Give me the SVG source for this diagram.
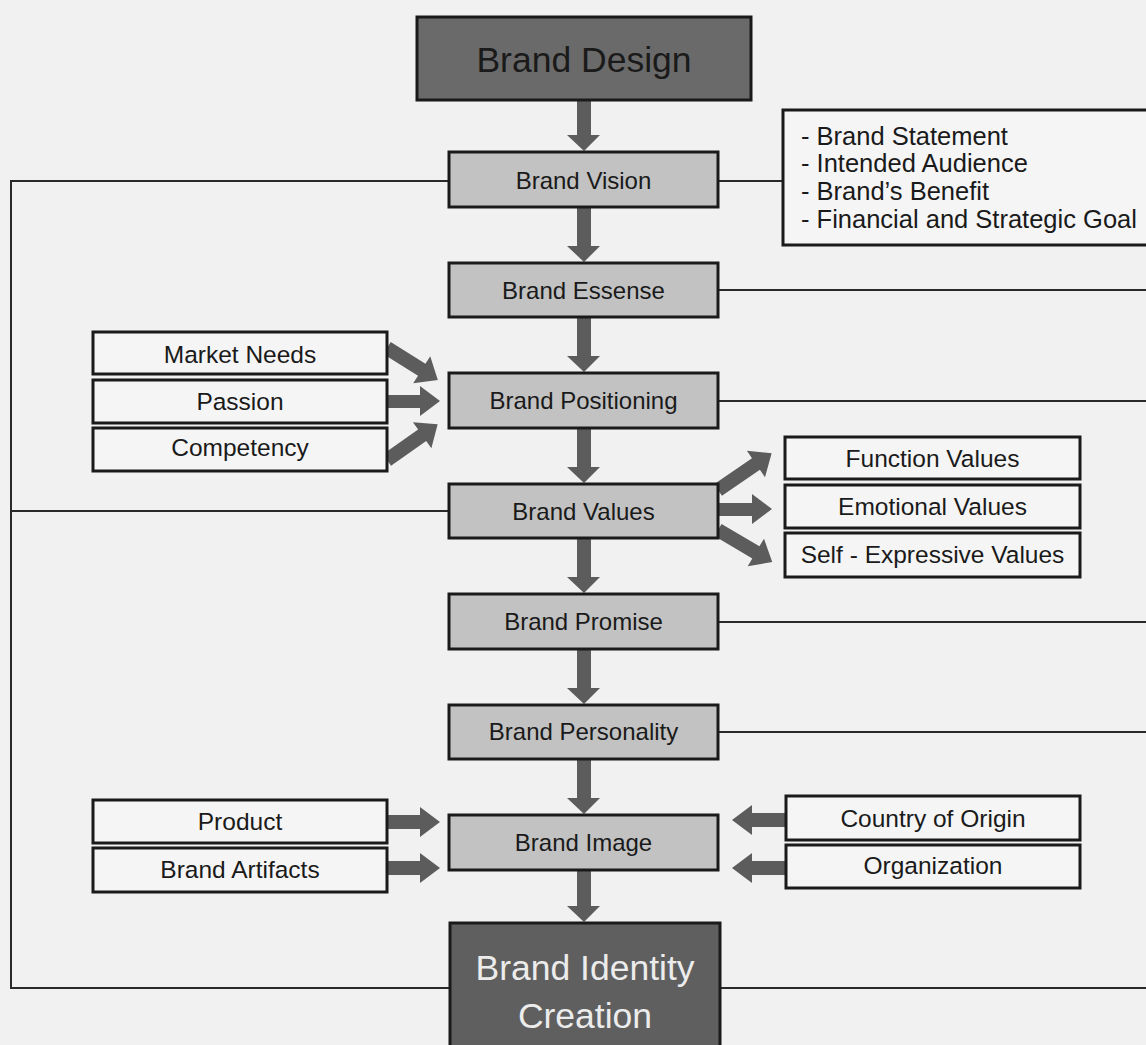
<svg xmlns="http://www.w3.org/2000/svg" width="1146" height="1045" viewBox="0 0 1146 1045">
<style>
text{font-family:"Liberation Sans",Arial,sans-serif;text-anchor:middle;fill:#1a1a1a}
.main{fill:#c2c2c2;stroke:#1a1a1a;stroke-width:3}
.dark{fill:#6a6a6a;stroke:#1a1a1a;stroke-width:3}
.side{fill:#f5f5f5;stroke:#1a1a1a;stroke-width:3}
.t{font-size:24px}
.s{font-size:24.5px}
.big{font-size:35.5px}
.info{font-size:25.5px;text-anchor:start}
.ln{stroke:#2a2a2a;stroke-width:2;fill:none}
.ar{fill:#5c5c5c}
</style>
<rect x="0" y="0" width="1146" height="1045" fill="#f1f1f1"/>

<g id="connectors">
  <polyline class="ln" points="449,181 11,181 11,988 450,988"/>
  <line class="ln" x1="11" y1="511" x2="449" y2="511"/>
  <line class="ln" x1="718" y1="181" x2="783" y2="181"/>
  <line class="ln" x1="718" y1="290" x2="1146" y2="290"/>
  <line class="ln" x1="718" y1="401" x2="1146" y2="401"/>
  <line class="ln" x1="718" y1="622" x2="1146" y2="622"/>
  <line class="ln" x1="718" y1="732" x2="1146" y2="732"/>
  <line class="ln" x1="720" y1="988" x2="1146" y2="988"/>

  <polygon class="ar" points="577,100 591,100 591,135 600,135 584,151 567,135 577,135"/>
  <polygon class="ar" points="577,207 591,207 591,246 600,246 584,262 567,246 577,246"/>
  <polygon class="ar" points="577,317 591,317 591,356 600,356 584,372 567,356 577,356"/>
  <polygon class="ar" points="577,428 591,428 591,467 600,467 584,483 567,467 577,467"/>
  <polygon class="ar" points="577,538 591,538 591,577 600,577 584,593 567,577 577,577"/>
  <polygon class="ar" points="577,649 591,649 591,688 600,688 584,704 567,688 577,688"/>
  <polygon class="ar" points="577,759 591,759 591,798 600,798 584,814 567,798 577,798"/>
  <polygon class="ar" points="577,870 591,870 591,906 600,906 584,922 567,906 577,906"/>

  <polygon class="ar" transform="translate(387,348) rotate(32.1)" points="0,-7 41,-7 41,-16 60,0 41,16 41,7 0,7"/>
  <polygon class="ar" points="387,395 420,395 420,386 440,401 420,416 420,408 387,408"/>
  <polygon class="ar" transform="translate(387,460) rotate(-35.2)" points="0,-7 43,-7 43,-16 62,0 43,16 43,7 0,7"/>

  <polygon class="ar" transform="translate(718,490) rotate(-34.4)" points="0,-7 46,-7 46,-16 65,0 46,16 46,7 0,7"/>
  <polygon class="ar" points="718,503 752,503 752,494 772,509 752,524 752,516 718,516"/>
  <polygon class="ar" transform="translate(718,530) rotate(30.6)" points="0,-7 44,-7 44,-16 63,0 44,16 44,7 0,7"/>

  <polygon class="ar" points="387,815 420,815 420,807 440,822 420,837 420,829 387,829"/>
  <polygon class="ar" points="387,861 420,861 420,853 440,868 420,883 420,875 387,875"/>
  <polygon class="ar" points="786,813 752,813 752,805 732,820 752,835 752,827 786,827"/>
  <polygon class="ar" points="786,861 752,861 752,853 732,868 752,883 752,875 786,875"/>
</g>

<g id="brand-design">
  <rect class="dark" x="417" y="17" width="334" height="83"/>
  <text class="big" x="584" y="72">Brand Design</text>
</g>
<g id="brand-vision">
  <rect class="main" x="449" y="152" width="269" height="55"/>
  <text class="t" x="583.5" y="189">Brand Vision</text>
</g>
<g id="vision-details">
  <rect class="side" x="783" y="110" width="370" height="135"/>
  <text class="info" x="801" y="145">- Brand Statement</text>
  <text class="info" x="801" y="172">- Intended Audience</text>
  <text class="info" x="801" y="200">- Brand’s Benefit</text>
  <text class="info" x="801" y="228">- Financial and Strategic Goal</text>
</g>
<g id="brand-essense">
  <rect class="main" x="449" y="263" width="269" height="54"/>
  <text class="t" x="583.5" y="299">Brand Essense</text>
</g>
<g id="brand-positioning">
  <rect class="main" x="449" y="373" width="269" height="55"/>
  <text class="t" x="583.5" y="409">Brand Positioning</text>
</g>
<g id="market-needs">
  <rect class="side" x="93" y="332" width="294" height="42"/>
  <text class="s" x="240" y="363">Market Needs</text>
</g>
<g id="passion">
  <rect class="side" x="93" y="380" width="294" height="43"/>
  <text class="s" x="240" y="410">Passion</text>
</g>
<g id="competency">
  <rect class="side" x="93" y="428" width="294" height="43"/>
  <text class="s" x="240" y="456">Competency</text>
</g>
<g id="brand-values">
  <rect class="main" x="449" y="484" width="269" height="54"/>
  <text class="t" x="583.5" y="520">Brand Values</text>
</g>
<g id="function-values">
  <rect class="side" x="785" y="437" width="295" height="42"/>
  <text class="s" x="932.5" y="467">Function Values</text>
</g>
<g id="emotional-values">
  <rect class="side" x="785" y="485" width="295" height="43"/>
  <text class="s" x="932.5" y="515">Emotional Values</text>
</g>
<g id="self-expressive-values">
  <rect class="side" x="785" y="533" width="295" height="44"/>
  <text class="s" x="932.5" y="563">Self - Expressive Values</text>
</g>
<g id="brand-promise">
  <rect class="main" x="449" y="594" width="269" height="55"/>
  <text class="t" x="583.5" y="630">Brand Promise</text>
</g>
<g id="brand-personality">
  <rect class="main" x="449" y="705" width="269" height="54"/>
  <text class="t" x="583.5" y="740">Brand Personality</text>
</g>
<g id="brand-image">
  <rect class="main" x="449" y="815" width="269" height="55"/>
  <text class="t" x="583.5" y="851">Brand Image</text>
</g>
<g id="product">
  <rect class="side" x="93" y="800" width="294" height="43"/>
  <text class="s" x="240" y="830">Product</text>
</g>
<g id="brand-artifacts">
  <rect class="side" x="93" y="848" width="294" height="44"/>
  <text class="s" x="240" y="878">Brand Artifacts</text>
</g>
<g id="country-of-origin">
  <rect class="side" x="786" y="796" width="294" height="44"/>
  <text class="s" x="933" y="827">Country of Origin</text>
</g>
<g id="organization">
  <rect class="side" x="786" y="845" width="294" height="43"/>
  <text class="s" x="933" y="874">Organization</text>
</g>
<g id="brand-identity-creation">
  <rect fill="#5f5f5f" stroke="#1a1a1a" stroke-width="3" x="450" y="923" width="270" height="140"/>
  <text class="big" x="585" y="980" style="fill:#ececec">Brand Identity</text>
  <text class="big" x="585" y="1028" style="fill:#ececec">Creation</text>
</g>
</svg>
